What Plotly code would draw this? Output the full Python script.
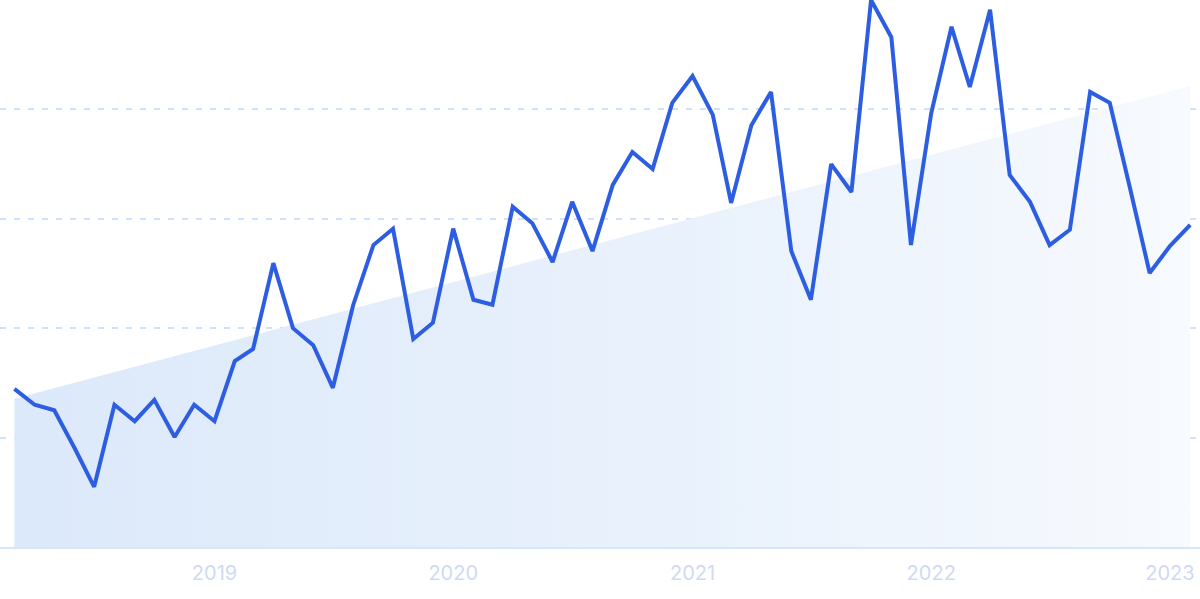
import pandas as pd
import plotly.graph_objects as go

# Monthly dates, March 2018 .. February 2023
months = pd.date_range("2018-03-01", "2023-02-01", freq="MS")

values = [
    28.9, 26.0, 25.0, 18.1, 11.0, 26.0, 23.0, 26.9, 20.1, 26.0,
    23.0, 34.0, 36.2, 51.9, 40.0, 36.9, 29.1, 44.2, 55.2, 58.2,
    38.0, 41.0, 58.2, 45.2, 44.3, 62.2, 59.2, 52.1, 63.1, 54.1,
    66.2, 72.2, 69.1, 81.2, 86.1, 79.0, 62.9, 77.1, 83.2, 54.1,
    45.2, 70.0, 64.9, 100.0, 93.2, 55.2, 79.3, 95.1, 84.1, 98.2,
    68.0, 63.1, 55.2, 58.0, 83.2, 81.2, 65.6, 50.1, 55.0, 58.9,
]

trend_start = 27.1
trend_end = 84.3

fig = go.Figure()

fig.add_trace(go.Scatter(
    x=[months[0], months[-1]],
    y=[trend_start, trend_end],
    mode="lines",
    line=dict(width=0, color="rgba(0,0,0,0)"),
    fill="tozeroy",
    fillgradient=dict(
        type="horizontal",
        colorscale=[[0, "rgb(220,233,250)"], [0.6, "rgb(234,242,252)"], [1, "rgb(247,250,254)"]],
    ),
    hoverinfo="skip",
    showlegend=False,
))

fig.add_trace(go.Scatter(
    x=months,
    y=values,
    mode="lines",
    line=dict(color="#2d5ee2", width=4),
    showlegend=False,
))

fig.update_layout(
    width=1200,
    height=599,
    margin=dict(l=0, r=0, t=0, b=52),
    paper_bgcolor="white",
    plot_bgcolor="white",
    font=dict(family="Inter, Roboto, sans-serif"),
)

fig.update_xaxes(
    range=["2018-02-07", "2023-02-16"],
    showgrid=False,
    zeroline=False,
    showline=True,
    linecolor="#d6e7fb",
    linewidth=2,
    tickformat="%Y",
    dtick="M12",
    tick0="2019-01-01",
    ticks="",
    ticklabelstandoff=7,
    tickfont=dict(size=20, color="#d0daf3"),
)

fig.update_yaxes(
    range=[0, 100],
    dtick=20,
    showgrid=True,
    gridcolor="#cfe2fb",
    gridwidth=1.5,
    griddash="6px,8px",
    zeroline=False,
    showticklabels=False,
    ticks="",
)

fig.write_html(
    "out.html",
    config={"displayModeBar": False},
    post_script="document.body.style.margin='0';document.body.style.overflow='hidden';",
)
